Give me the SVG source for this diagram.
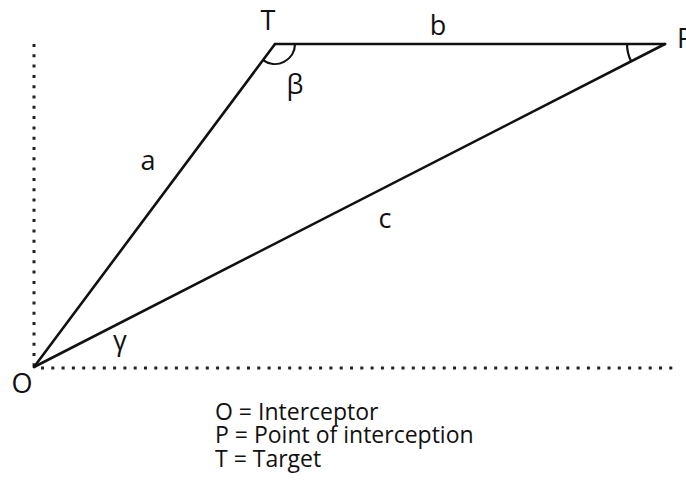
<svg xmlns="http://www.w3.org/2000/svg" width="686" height="481" viewBox="0 0 686 481">
<style>
text{font-family:"Open Sans","DejaVu Sans",sans-serif;fill:#111}
.lbl{font-size:27px}
.leg{font-size:23px}
.edge{stroke:#111;stroke-width:2.6;fill:none;stroke-linecap:round}
.arc{stroke:#111;stroke-width:2.2;fill:none}
.dot{stroke:#222;stroke-width:3;stroke-dasharray:3 7.3;fill:none}
</style>
<rect width="686" height="481" fill="#fff"/>
<g id="axes">
<line class="dot" x1="34" y1="44" x2="34" y2="366"/>
<line class="dot" x1="41" y1="368" x2="676" y2="368"/>
</g>
<g id="connectors">
<line class="edge" x1="34" y1="367" x2="275" y2="44"/>
<line class="edge" x1="275" y1="44" x2="665" y2="44"/>
<line class="edge" x1="34" y1="367" x2="665" y2="44"/>
<text class="lbl" x="148" y="170" text-anchor="middle">a</text>
<text class="lbl" x="438" y="35" text-anchor="middle">b</text>
<text class="lbl" x="385" y="228" text-anchor="middle">c</text>
</g>
<g id="node-O">
<text class="lbl" x="22" y="393" text-anchor="middle">O</text>
</g>
<g id="node-T">
<text class="lbl" x="268" y="30" text-anchor="middle">T</text>
</g>
<g id="node-P">
<text class="lbl" x="677" y="48">P</text>
</g>
<g id="angle-beta">
<path class="arc" d="M295,44 A20,20 0 0 1 263,60"/>
<text class="lbl" x="295" y="94" text-anchor="middle">β</text>
</g>
<g id="angle-P">
<path class="arc" d="M627,44 A38,38 0 0 0 631.2,61.3"/>
</g>
<g id="angle-gamma">
<text class="lbl" x="120" y="350" text-anchor="middle">γ</text>
</g>
<g id="legend">
<text class="leg" x="215" y="420">O = Interceptor</text>
<text class="leg" x="215" y="443">P = Point of interception</text>
<text class="leg" x="215" y="467">T = Target</text>
</g>
</svg>
